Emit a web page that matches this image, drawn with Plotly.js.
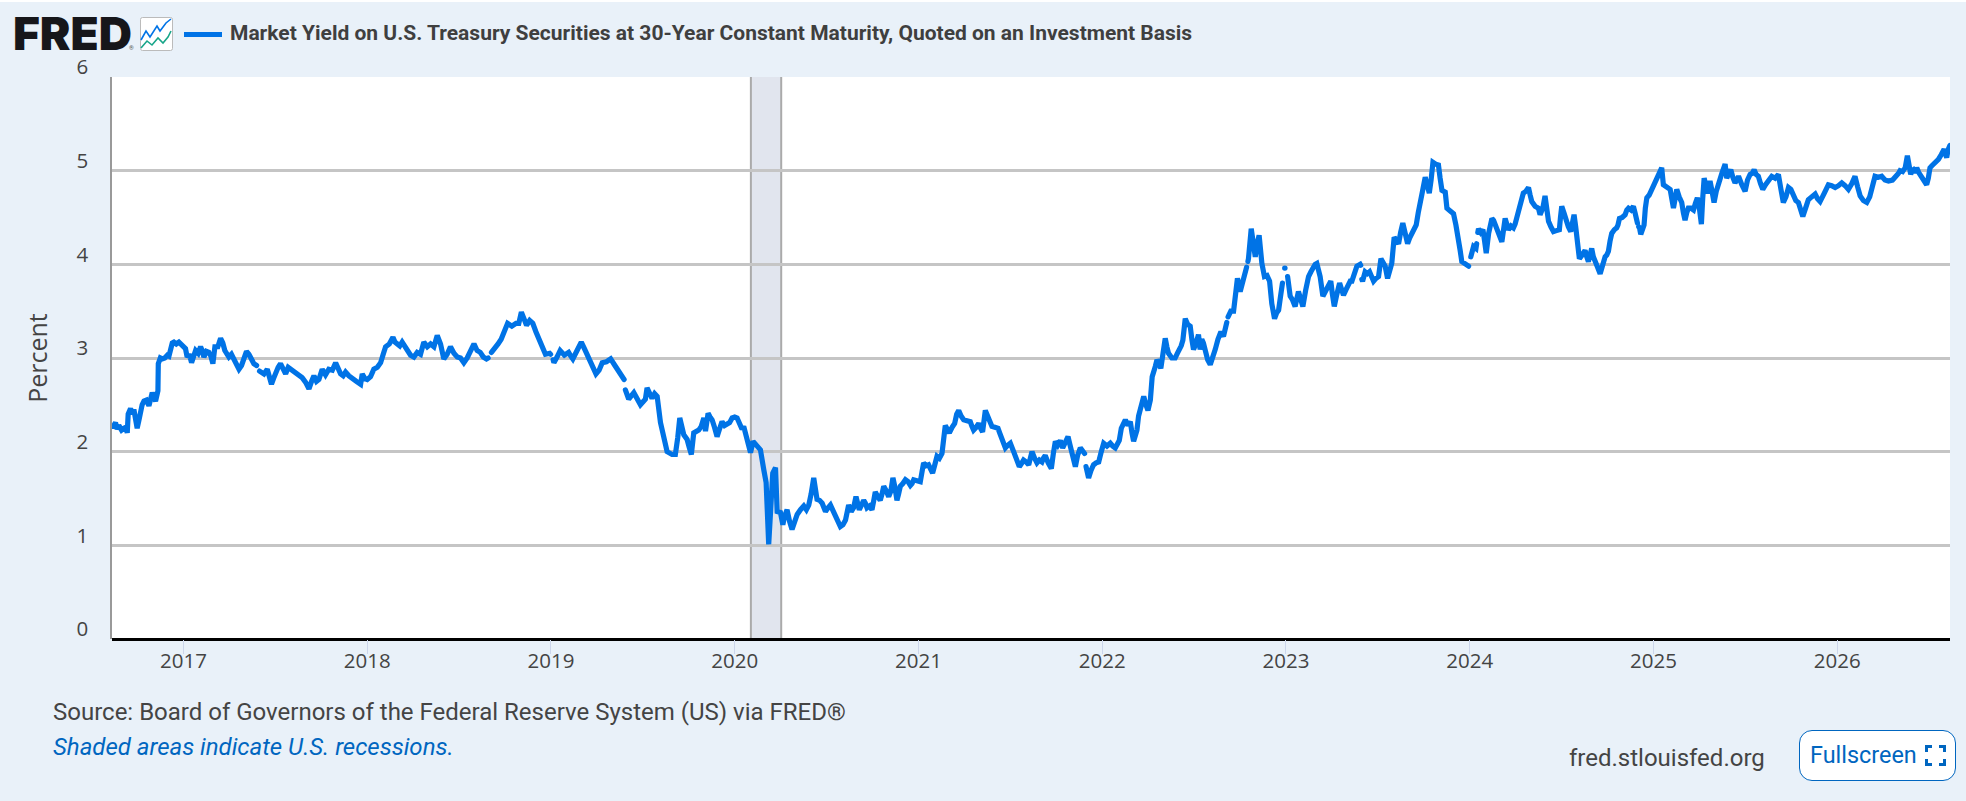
<!DOCTYPE html>
<html>
<head>
<meta charset="utf-8">
<title>Market Yield on U.S. Treasury Securities at 30-Year Constant Maturity</title>
<script src="https://cdn.plot.ly/plotly-3.0.1.min.js"></script>
<style>
  html, body { margin: 0; padding: 0; background: #e9f1f9; overflow: hidden; }
  #topstrip { position: absolute; left: 0; top: 0; width: 1966px; height: 2px; background: #fff; z-index: 5; }
  #chart { position: absolute; left: 0; top: 0; width: 1966px; height: 801px; }
  #chart .js-line { stroke-linecap: round; }
  #icon { position: absolute; left: 140px; top: 17px; z-index: 5; }
  #fullscreen {
    position: absolute; left: 1799px; top: 730px; width: 155px; height: 49px; z-index: 5;
    background: #fff; border: 1.5px solid #0066c0; border-radius: 13px;
    font: 23.4px Roboto, sans-serif; color: #0066c0; line-height: 48px; box-sizing: content-box;
  }
  #fullscreen span { position: absolute; left: 10px; top: 0; }
  #fullscreen svg { position: absolute; left: 125px; top: 14px; }
</style>
</head>
<body>
<div id="topstrip"></div>
<div id="chart"></div>
<svg id="icon" width="33" height="34" viewBox="0 0 33 34">
  <rect x="0.5" y="0.5" width="32" height="33" rx="2" fill="#fff" stroke="#bbb"/>
  <polyline points="1,23 6,14 10,20 17,9 20,14 26,6 31,2" fill="none" stroke="#0073e6" stroke-width="1.6"/>
  <polyline points="1,31 7,24 12,28 18,21 23,26 28,20 31,14" fill="none" stroke="#17a589" stroke-width="1.6"/>
</svg>
<div id="fullscreen"><span>Fullscreen</span>
  <svg width="21" height="21" viewBox="0 0 21 21" fill="none" stroke="#0066c0" stroke-width="3">
    <path d="M1.5 7V1.5H7M14 1.5H19.5V7M19.5 14V19.5H14M7 19.5H1.5V14"/>
  </svg>
</div>
<script>
const seriesName = "Market Yield on U.S. Treasury Securities at 30-Year Constant Maturity, Quoted on an Investment Basis";

// main turning points, positions in fractional years
const obsYears = [
  2016.611,2016.618,2016.630,2016.639,2016.663,2016.676,2016.694,2016.699,2016.712,2016.730,2016.748,2016.766,2016.785,2016.812,2016.830,2016.848,2016.861,2016.863,2016.884,2016.912,2016.930,2016.948,2016.975,
  2017.011,2017.020,2017.044,2017.066,2017.093,2017.111,2017.138,2017.160,2017.171,2017.202,2017.225,2017.247,2017.274,2017.302,2017.329,2017.356,2017.383,
  2017.420,2017.456,2017.479,2017.501,2017.528,2017.556,2017.583,2017.619,2017.646,2017.683,2017.710,2017.737,2017.755,2017.791,2017.828,2017.855,2017.882,2017.918,2017.964,2017.973,
  2018.000,2018.036,2018.073,2018.100,2018.140,2018.163,2018.190,2018.218,2018.254,2018.290,2018.308,2018.345,2018.363,2018.381,2018.399,2018.417,2018.453,2018.490,2018.526,2018.562,2018.581,2018.615,2018.649,
  2018.695,2018.729,2018.764,2018.810,2018.839,2018.867,2018.901,2018.936,2018.970,2018.993,
  2019.016,2019.050,2019.096,2019.119,2019.165,2019.199,2019.245,2019.279,2019.325,2019.371,2019.398,
  2019.405,2019.423,2019.451,2019.487,2019.514,2019.523,2019.550,2019.578,2019.596,2019.623,2019.632,2019.659,2019.677,2019.701,2019.723,2019.741,2019.764,2019.777,2019.804,2019.832,2019.841,2019.855,2019.877,2019.904,2019.931,2019.959,2019.986,
  2020.013,2020.031,2020.049,2020.067,2020.086,2020.100,2020.122,2020.140,2020.158,2020.171,2020.185,2020.194,2020.207,2020.222,2020.231,2020.249,2020.262,2020.285,2020.312,2020.340,2020.376,2020.403,2020.430,2020.448,2020.476,2020.494,2020.521,2020.548,2020.575,2020.603,
  2020.620,2020.647,2020.660,2020.678,2020.702,2020.720,2020.747,2020.765,2020.792,2020.811,2020.838,2020.861,2020.883,2020.901,2020.929,2020.956,2020.974,
  2021.010,2021.028,2021.055,2021.077,2021.101,2021.128,2021.146,2021.168,2021.197,2021.219,2021.246,2021.282,2021.300,2021.328,2021.349,2021.364,2021.386,2021.400,2021.433,2021.455,2021.473,2021.500,2021.518,2021.549,2021.572,2021.600,2021.618,2021.645,2021.672,2021.690,2021.723,2021.745,2021.772,2021.785,2021.814,2021.836,2021.854,2021.866,2021.881,2021.904,
  2021.912,2021.926,2021.953,2021.981,2022.008,2022.044,2022.071,2022.093,2022.104,2022.126,2022.153,2022.171,2022.189,2022.207,2022.226,2022.249,2022.262,2022.272,2022.289,2022.298,2022.319,2022.343,2022.361,2022.397,2022.421,2022.439,2022.452,2022.479,2022.497,2022.524,2022.533,2022.551,2022.561,2022.588,2022.615,2022.646,2022.660,2022.673,
  2022.688,2022.715,2022.736,2022.751,2022.769,2022.782,
  2022.796,2022.811,2022.833,2022.854,2022.869,2022.883,2022.911,2022.923,2022.938,2022.960,2022.981,
  2023.009,2023.023,2023.050,2023.068,2023.092,2023.123,2023.150,2023.168,2023.186,2023.201,2023.223,2023.244,2023.263,2023.292,2023.313,2023.341,2023.359,2023.386,2023.404,
  2023.417,2023.431,2023.455,2023.477,2023.504,2023.517,2023.540,2023.553,2023.576,2023.589,2023.613,2023.636,2023.662,2023.685,2023.709,2023.731,2023.758,2023.780,2023.800,2023.830,2023.849,2023.867,2023.876,2023.912,2023.939,2023.957,2023.994,
  2024.006,2024.021,2024.034,
  2024.048,2024.072,2024.090,2024.103,2024.121,2024.139,2024.166,2024.175,2024.193,2024.211,2024.238,2024.256,2024.274,2024.292,2024.320,2024.338,2024.374,2024.383,2024.398,2024.410,2024.429,2024.456,2024.488,2024.501,2024.525,2024.550,2024.568,2024.586,2024.597,2024.628,2024.646,2024.664,2024.683,2024.710,2024.737,2024.755,2024.773,2024.800,2024.815,2024.846,2024.864,2024.891,2024.909,
  2024.924,2024.931,2024.949,2024.964,2024.991,2025.018,2025.045,2025.054,2025.091,2025.109,2025.127,2025.154,2025.172,2025.190,2025.218,2025.239,2025.261,2025.276,2025.294,2025.308,2025.330,2025.354,2025.390,2025.399,2025.421,2025.444,2025.463,2025.499,2025.526,2025.548,2025.571,2025.595,2025.626,2025.644,2025.680,2025.707,2025.735,2025.762,2025.789,2025.813,2025.843,2025.880,2025.907,2025.952,2025.989,
  2026.025,2026.061,2026.097,2026.125,2026.161,2026.193,2026.206,2026.242,2026.279,2026.324,2026.342,2026.370,2026.382,2026.400,2026.415,2026.433,2026.455,2026.487,2026.505,2026.524,2026.551,2026.582,2026.596,2026.611,2026.614
];
const obsYields = [
  2.27,2.27,2.31,2.24,2.23,2.25,2.20,2.40,2.46,2.45,2.25,2.45,2.54,2.49,2.63,2.54,2.65,2.94,2.99,3.03,3.08,3.17,3.17,
  3.10,3.01,2.95,3.08,3.12,3.01,3.06,2.94,3.12,3.21,3.08,3.01,2.99,2.88,2.99,3.04,2.94,
  2.85,2.88,2.72,2.85,2.94,2.83,2.88,2.83,2.79,2.67,2.81,2.77,2.88,2.88,2.95,2.83,2.85,2.79,2.72,2.83,
  2.77,2.88,2.95,3.12,3.22,3.15,3.17,3.08,3.01,3.04,3.17,3.15,3.12,3.24,3.15,2.99,3.12,3.01,2.95,3.08,3.15,3.06,2.99,
  3.10,3.20,3.37,3.37,3.49,3.35,3.37,3.19,3.04,3.05,
  2.95,3.08,3.06,2.99,3.17,3.03,2.83,2.95,2.99,2.86,2.77,
  2.66,2.56,2.63,2.50,2.56,2.68,2.57,2.59,2.31,2.09,2.00,1.97,1.97,2.36,2.18,2.13,1.97,2.20,2.23,2.36,2.22,2.41,2.34,2.16,2.32,2.29,2.36,
  2.36,2.25,2.27,2.11,1.99,2.11,2.06,2.02,1.81,1.67,1.01,1.35,1.77,1.83,1.36,1.35,1.22,1.38,1.17,1.33,1.42,1.43,1.72,1.49,1.45,1.36,1.43,1.31,1.20,1.27,
  1.43,1.40,1.52,1.38,1.48,1.40,1.38,1.57,1.48,1.63,1.52,1.72,1.48,1.63,1.70,1.64,1.70,
  1.68,1.88,1.86,1.77,1.95,1.98,2.28,2.20,2.30,2.44,2.34,2.32,2.23,2.30,2.21,2.44,2.34,2.27,2.25,2.12,2.04,2.09,2.00,1.84,1.91,1.86,2.00,1.88,1.89,1.96,1.82,2.11,2.12,2.04,2.16,1.98,1.84,1.96,2.04,1.98,
  1.84,1.72,1.86,1.89,2.09,2.09,2.04,2.12,2.25,2.34,2.32,2.11,2.23,2.46,2.59,2.44,2.55,2.80,2.91,2.98,2.89,3.21,3.05,3.00,3.09,3.19,3.42,3.34,3.09,3.25,3.09,3.16,3.05,2.93,3.09,3.28,3.23,3.34,
  3.46,3.50,3.85,3.71,3.83,3.92,
  4.06,4.38,4.08,4.31,4.01,3.87,3.82,3.58,3.42,3.51,3.80,
  3.87,3.66,3.55,3.71,3.55,3.87,3.98,4.01,3.87,3.66,3.74,3.82,3.55,3.80,3.67,3.80,3.82,3.98,4.00,
  3.82,3.92,3.92,3.82,3.87,4.06,3.98,3.85,4.01,4.29,4.22,4.44,4.22,4.33,4.42,4.69,4.93,4.76,5.09,5.06,4.79,4.77,4.60,4.54,4.29,4.03,3.98,
  4.08,4.19,4.17,
  4.38,4.37,4.12,4.33,4.49,4.42,4.29,4.24,4.49,4.37,4.39,4.49,4.60,4.76,4.82,4.67,4.60,4.53,4.60,4.73,4.46,4.35,4.37,4.62,4.46,4.35,4.53,4.28,4.06,4.15,4.03,4.17,4.01,3.90,4.08,4.14,4.33,4.39,4.49,4.53,4.60,4.62,4.46,
  4.39,4.32,4.42,4.71,4.80,4.91,5.03,4.85,4.80,4.60,4.80,4.66,4.47,4.60,4.58,4.71,4.43,4.92,4.76,4.89,4.66,4.87,5.07,4.92,5.01,4.87,4.94,4.78,4.96,5.01,4.94,4.80,4.89,4.94,4.96,4.66,4.82,4.73,4.66,4.51,4.69,4.75,4.67,4.85,4.82,
  4.87,4.80,4.94,4.73,4.66,4.82,4.94,4.94,4.89,4.94,5.00,5.03,5.16,4.96,5.01,5.03,4.94,4.85,5.03,5.07,5.12,5.23,5.14,5.27,5.27
];

// finer readings between the turning points, including the ends of each break
const chopYears = [
  2016.648,2016.686,2016.721,2016.739,2016.757,2016.775,2016.798,2016.821,2016.839,2016.874,2016.898,2016.921,2016.939,2016.961,2016.993,
  2017.032,2017.055,2017.080,2017.102,2017.125,2017.149,2017.187,2017.214,2017.236,2017.261,2017.288,2017.316,2017.343,2017.370,2017.398,2017.414,2017.438,2017.468,2017.490,2017.515,2017.542,2017.570,2017.601,2017.633,2017.665,2017.697,2017.724,2017.773,2017.810,2017.842,2017.869,2017.900,2017.941,2017.987,
  2018.018,2018.055,2018.087,2018.120,2018.151,2018.177,2018.204,2018.236,2018.272,2018.300,2018.327,2018.408,2018.435,2018.472,2018.508,2018.544,2018.571,2018.598,2018.632,2018.658,2018.676,2018.712,2018.747,2018.787,2018.825,2018.853,2018.884,2018.918,2018.953,
  2018.998,2019.012,2019.033,2019.073,2019.108,2019.142,2019.182,2019.222,2019.262,2019.302,2019.348,2019.384,2019.469,2019.505,2019.537,2019.564,2019.611,2019.690,2019.732,2019.752,2019.790,2019.818,2019.866,2019.890,2019.917,2019.945,2019.972,
  2020.000,2020.022,2020.040,2020.058,2020.076,2020.111,2020.270,2020.298,2020.326,2020.358,2020.390,2020.416,2020.462,2020.508,2020.535,2020.562,2020.589,2020.634,2020.690,2020.711,2020.734,2020.756,2020.779,2020.802,2020.825,2020.850,2020.872,2020.892,2020.915,2020.943,2020.965,2020.992,
  2021.042,2021.066,2021.089,2021.114,2021.157,2021.183,2021.208,2021.232,2021.264,2021.291,2021.314,2021.338,2021.375,2021.416,2021.444,2021.487,2021.534,2021.560,2021.586,2021.609,2021.632,2021.658,2021.680,2021.706,2021.734,2021.758,2021.799,2021.825,2021.845,2021.939,2021.967,2021.995,
  2022.026,2022.057,2022.082,2022.115,2022.140,2022.162,2022.180,2022.198,2022.216,2022.238,2022.308,2022.331,2022.352,2022.379,2022.409,2022.430,2022.465,2022.488,2022.510,2022.542,2022.574,2022.601,2022.630,2022.678,2022.685,2022.700,2022.726,2022.786,2022.793,2022.822,2022.843,2022.897,2022.949,2022.970,2022.993,2022.995,
  2023.036,2023.059,2023.080,2023.107,2023.136,2023.159,2023.177,2023.212,2023.233,2023.253,2023.277,2023.302,2023.327,2023.350,2023.372,2023.407,2023.413,2023.443,2023.466,2023.490,2023.528,2023.564,2023.601,2023.624,2023.649,2023.673,2023.697,2023.720,2023.745,2023.769,2023.790,2023.815,2023.839,2023.894,2023.925,2023.948,2023.975,
  2024.038,2024.044,2024.060,2024.081,2024.112,2024.130,2024.152,2024.202,2024.225,2024.247,2024.265,2024.283,2024.306,2024.329,2024.356,2024.419,2024.442,2024.472,2024.494,2024.513,2024.537,2024.559,2024.577,2024.612,2024.637,2024.655,2024.673,2024.696,2024.723,2024.746,2024.764,2024.787,2024.807,2024.830,2024.855,2024.878,2024.900,2024.913,2024.920,2024.956,2024.977,
  2025.005,2025.031,2025.072,2025.100,2025.118,2025.140,2025.163,2025.181,2025.204,2025.228,2025.250,2025.268,2025.285,2025.301,2025.319,2025.342,2025.372,2025.410,2025.432,2025.453,2025.481,2025.512,2025.537,2025.559,2025.583,2025.610,2025.635,2025.662,2025.694,2025.721,2025.748,2025.775,2025.801,2025.828,2025.861,2025.893,2025.930,2025.970,
  2026.007,2026.043,2026.079,2026.111,2026.143,2026.177,2026.224,2026.260,2026.301,2026.333,2026.356,2026.391,2026.407,2026.424,2026.444,2026.471,2026.496,2026.514,2026.537,2026.566,2026.589,2026.603
];
const chopYields = [
  2.28,2.26,2.40,2.36,2.33,2.50,2.55,2.55,2.58,3.00,3.00,3.02,3.16,3.15,3.13,
  3.04,3.00,3.05,3.08,3.07,3.02,3.12,3.16,3.03,3.04,2.93,2.92,3.07,2.98,2.92,2.86,2.83,2.80,2.78,2.90,2.89,2.90,2.86,2.81,2.74,2.75,2.75,2.82,2.87,2.87,2.81,2.81,2.75,2.78,
  2.80,2.90,3.04,3.15,3.17,3.13,3.12,3.03,3.06,3.10,3.12,3.06,3.04,3.05,3.00,3.00,3.12,3.08,3.01,3.00,3.06,3.15,3.28,3.34,3.37,3.42,3.40,3.28,3.10,
  3.04,2.98,3.01,3.03,3.02,3.08,3.10,2.92,2.87,2.96,2.92,2.81,2.55,2.54,2.62,2.62,2.20,2.15,2.16,2.05,2.22,2.27,2.37,2.26,2.24,2.28,2.31,
  2.37,2.32,2.24,2.20,2.05,2.08,1.30,1.26,1.25,1.38,1.38,1.55,1.48,1.40,1.37,1.25,1.22,1.36,1.42,1.45,1.42,1.47,1.52,1.55,1.58,1.58,1.62,1.55,1.66,1.68,1.66,1.69,
  1.85,1.82,1.86,1.93,2.22,2.26,2.40,2.38,2.33,2.27,2.26,2.25,2.38,2.26,2.19,2.07,1.93,1.87,1.89,1.93,1.93,1.91,1.93,1.88,1.98,2.07,2.10,2.07,1.90,1.80,1.88,2.00,
  2.06,2.06,2.08,2.30,2.28,2.20,2.17,2.38,2.50,2.50,2.95,3.05,3.12,3.00,3.05,3.13,3.36,3.20,3.15,3.20,2.98,3.00,3.20,3.38,3.44,3.50,3.65,3.97,4.03,4.20,4.22,3.88,3.48,3.65,3.96,3.96,
  3.62,3.63,3.63,3.72,3.92,4.00,3.95,3.70,3.80,3.68,3.68,3.74,3.73,3.82,3.90,3.99,3.84,3.90,3.86,3.85,4.02,3.92,4.25,4.34,4.33,4.28,4.37,4.55,4.80,4.85,4.90,5.07,4.92,4.57,4.42,4.15,4.00,
  4.22,4.34,4.34,4.25,4.40,4.47,4.36,4.43,4.41,4.43,4.55,4.68,4.78,4.74,4.62,4.60,4.40,4.36,4.50,4.55,4.40,4.45,4.40,4.10,4.08,4.10,4.08,3.97,4.00,4.10,4.25,4.37,4.42,4.50,4.58,4.58,4.55,4.44,4.40,4.60,4.74,
  4.85,4.96,4.82,4.70,4.70,4.72,4.55,4.55,4.60,4.65,4.60,4.70,4.84,4.80,4.78,4.78,4.97,4.97,4.93,4.90,4.85,4.90,4.97,4.96,4.86,4.85,4.93,4.92,4.80,4.72,4.80,4.68,4.58,4.60,4.72,4.70,4.76,4.84,
  4.84,4.84,4.86,4.83,4.68,4.72,4.93,4.90,4.90,4.97,4.99,5.06,5.00,4.98,4.98,4.88,4.92,5.05,5.10,5.17,5.18,5.22
];

// years where the published line breaks (missing days)
const gapYears = [2017.405, 2018.667, 2019.005, 2019.4015, 2021.908, 2022.682, 2022.789, 2022.986, 2023.003, 2023.410, 2024.000, 2024.041, 2024.916];

const xTicks = [2017, 2018, 2019, 2020, 2021, 2022, 2023, 2024, 2025, 2026];
const yTicks = [0, 1, 2, 3, 4, 5, 6];
const recessionStart = [2020.088];
const recessionEnd = [2020.253];

const W = 1966, H = 801;
const M = { l: 112, r: 16, t: 77, b: 161.5 };

// page pixels to paper fractions, for the header and footer text
const px = x => (x - M.l) / (W - M.l - M.r);
const py = y => 1 - (y - M.t) / (H - M.t - M.b);

function note(text, x, y, size, color, extra) {
    return Object.assign({
        text: text, xref: "paper", yref: "paper", x: px(x), y: py(y),
        xanchor: "left", yanchor: "middle", showarrow: false, borderpad: 0,
        font: { family: "Roboto, sans-serif", size: size, color: color }
    }, extra || {});
}

// merge the readings and the breaks into one time-ordered series
const merged = [];
obsYears.forEach((yr, i) => merged.push([yr, obsYields[i]]));
chopYears.forEach((yr, i) => merged.push([yr, chopYields[i]]));
gapYears.forEach(yr => merged.push([yr, null]));
merged.sort((a, b) => a[0] - b[0]);

const trace = {
    x: merged.map(p => p[0]), y: merged.map(p => p[1]), name: seriesName,
    type: "scatter", mode: "lines",
    line: { color: "#0073e6", width: 5.2, shape: "linear" },
    connectgaps: false, hoverinfo: "x+y"
};

// recession bands first, then their side borders, then the legend key in the header
const recessionShapes = recessionStart.map((s, i) => ({
    type: "rect", xref: "x", yref: "paper", x0: s, x1: recessionEnd[i], y0: 0, y1: 1,
    fillcolor: "#e1e5ee", line: { width: 0 }, layer: "below"
}));
const recessionEdges = recessionStart.concat(recessionEnd).map(v => ({
    type: "line", xref: "x", yref: "paper", x0: v, x1: v, y0: 0, y1: 1,
    line: { color: "#aaaaaa", width: 2 }, layer: "below"
}));
const legendKey = {
    type: "line", xref: "paper", yref: "paper", x0: px(184), x1: px(222), y0: py(34.5), y1: py(34.5),
    line: { color: "#0073e6", width: 5 }
};

const layout = {
    width: W, height: H,
    margin: { l: M.l, r: M.r, t: M.t, b: M.b, pad: 0 },
    paper_bgcolor: "#e9f1f9", plot_bgcolor: "#ffffff",
    font: { family: "'Open Sans', sans-serif", color: "#444444" },
    showlegend: false,
    xaxis: {
        type: "linear", range: [2016.611, 2026.614],
        tickmode: "array", tickvals: xTicks, ticktext: xTicks.map(String),
        ticks: "outside", ticklen: 14, tickwidth: 1, tickcolor: "#ccd6eb", ticklabelstandoff: -11,
        tickfont: { family: "'Open Sans', sans-serif", size: 20.5, color: "#444444" },
        showgrid: false, showline: false, zeroline: false, fixedrange: true
    },
    yaxis: {
        range: [0, 6],
        tickmode: "array", tickvals: yTicks, ticktext: yTicks.map(String),
        ticks: "", ticklabelstandoff: 18, ticklabelshift: -10,
        tickfont: { family: "'Open Sans', sans-serif", size: 20.5, color: "#444444" },
        showgrid: true, gridcolor: "#c5c5c5", gridwidth: 2.5,
        zeroline: true, zerolinecolor: "#000000", zerolinewidth: 3,
        showline: true, linecolor: "#999999", linewidth: 1.5,
        title: { text: "Percent", standoff: 22, font: { family: "'Open Sans', sans-serif", size: 25, color: "#444444" } },
        fixedrange: true
    },
    shapes: recessionShapes.concat(recessionEdges, [legendKey]),
    annotations: [
        note("FRED", 11.5, 33, 46, "#16161a", { font: { family: "Inter, sans-serif", size: 46, weight: 900, color: "#16161a" } }),
        note("®", 128, 47, 6, "#555555"),
        note(seriesName, 229, 33, 21, "#3f3f3f", { font: { family: "Roboto, sans-serif", size: 21, weight: 700, color: "#3f3f3f" } }),
        note("Source: Board of Governors of the Federal Reserve System (US) via FRED®", 52, 713, 24, "#444444"),
        note("<i>Shaded areas indicate U.S. recessions.</i>", 52, 748, 24, "#0066c0"),
        note("fred.stlouisfed.org", 1568, 759, 24, "#444444")
    ]
};

Plotly.newPlot("chart", [trace], layout, { displayModeBar: false, responsive: false });
</script>
</body>
</html>
